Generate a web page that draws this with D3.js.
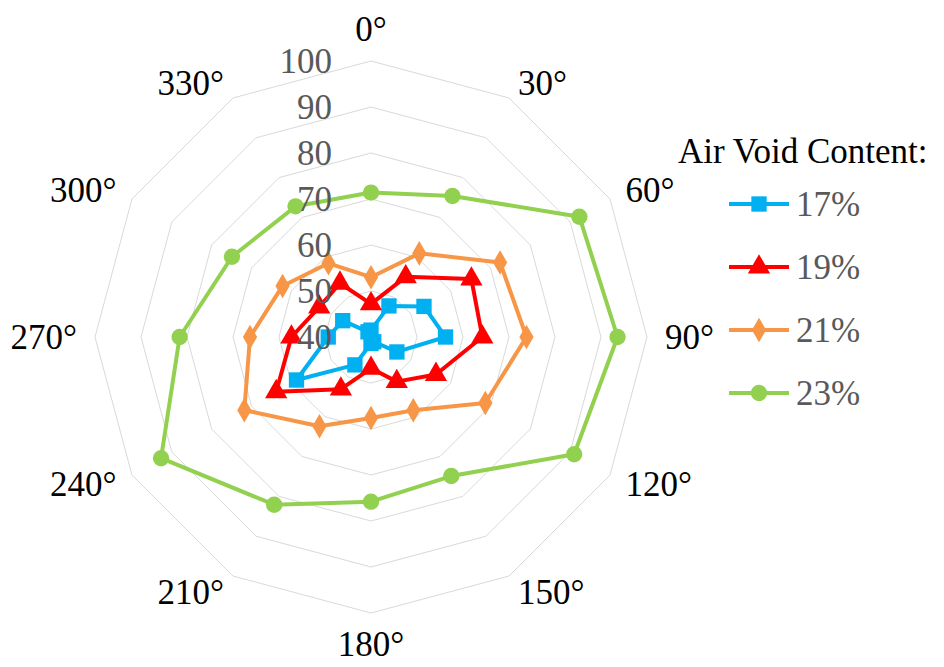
<!DOCTYPE html>
<html>
<head>
<meta charset="utf-8">
<script src="https://cdn.jsdelivr.net/npm/d3@7"></script>
<style>
  html, body { margin: 0; padding: 0; background: #fff; }
  svg { display: block; }
  text { font-family: "Liberation Serif", "Times New Roman", serif; }
</style>
</head>
<body>
<svg id="chart" width="944" height="667"></svg>
<script>
// Orientation categories (degrees), clockwise from the top
const angleLabels = ["0°", "30°", "60°", "90°", "120°", "150°", "180°", "210°", "240°", "270°", "300°", "330°"];
// Radial axis ticks
const radialTicks = [40, 50, 60, 70, 80, 90, 100];
// Series names (air void content)
const seriesNames = ["17%", "19%", "21%", "23%"];
// Values per orientation for each air void content
const values17 = [41.5, 47.8, 53.3, 56.2, 46.5, 41.2, 41.4, 47.0, 58.7, 49.3, 47.1, 41.3];
const values19 = [47.2, 55.1, 65.2, 64.2, 56.3, 51.2, 46.8, 53.1, 63.8, 57.3, 53.0, 53.5];
const values21 = [53.0, 61.0, 72.4, 73.8, 68.7, 58.4, 57.6, 62.4, 71.8, 66.3, 62.2, 58.5];
const values23 = [71.4, 75.4, 92.3, 93.6, 91.0, 74.9, 75.8, 82.1, 92.7, 81.6, 74.9, 72.8];

const seriesColors = ["#00B0F0", "#FF0000", "#F79646", "#92D050"];
const seriesSymbols = [d3.symbolSquare, d3.symbolTriangle, d3.symbolDiamond, d3.symbolCircle];
const symbolAreas = [235, 215, 175, 210];
const series = seriesNames.map((name, i) => ({
  name,
  values: [values17, values19, values21, values23][i],
  color: seriesColors[i],
  symbol: d3.symbol().type(seriesSymbols[i]).size(symbolAreas[i])
}));

const svg = d3.select("#chart");
const cx = 371, cy = 337;
const fontSize = 35;

const r = d3.scaleLinear().domain([40, 100]).range([0, 276]);
const theta = d3.scalePoint().domain(angleLabels).range([0, 2 * Math.PI * (11 / 12)]);

const g = svg.append("g").attr("transform", `translate(${cx},${cy})`);

// Point on the chart for a category and value
const pt = (cat, v) => {
  const a = theta(cat);
  return [r(v) * Math.sin(a), -r(v) * Math.cos(a)];
};

// Grid rings (polygons)
const ringLine = d3.line().curve(d3.curveLinearClosed);
g.append("g").selectAll("path")
  .data(radialTicks.slice(1))
  .join("path")
  .attr("d", t => ringLine(angleLabels.map(c => pt(c, t))))
  .attr("fill", "none")
  .attr("stroke", "#D9D9D9")
  .attr("stroke-width", 1);

// Series lines and markers
const seriesG = g.append("g");
series.forEach(s => {
  const sg = seriesG.append("g");
  sg.append("path")
    .attr("d", ringLine(s.values.map((v, i) => pt(angleLabels[i], v))))
    .attr("fill", "none")
    .attr("stroke", s.color)
    .attr("stroke-width", 4)
    .attr("stroke-linejoin", "round");
  sg.selectAll("path.m")
    .data(s.values)
    .join("path")
    .attr("class", "m")
    .attr("d", s.symbol)
    .attr("transform", (v, i) => {
      const [x, y] = pt(angleLabels[i], v);
      return `translate(${x},${y})`;
    })
    .attr("fill", s.color);
});

// Radial tick labels along the 0° spoke
g.append("g").selectAll("text")
  .data(radialTicks)
  .join("text")
  .attr("x", -39)
  .attr("y", t => -r(t))
  .attr("dy", "0.35em")
  .attr("text-anchor", "end")
  .attr("font-size", fontSize)
  .attr("fill", "#595959")
  .text(t => t);

// Category labels around the outside
const labelR = 294;
g.append("g").selectAll("text")
  .data(angleLabels)
  .join("text")
  .attr("font-size", fontSize)
  .attr("fill", "#000")
  .each(function (c) {
    const a = theta(c);
    const sx = Math.sin(a), sy = -Math.cos(a);
    let anchor = "middle";
    if (sx > 0.05) anchor = "start";
    else if (sx < -0.05) anchor = "end";
    let dy = "0.35em";
    if (Math.abs(sx) < 0.05) dy = sy < 0 ? "-0.05em" : "0.72em";
    d3.select(this)
      .attr("x", labelR * sx).attr("y", labelR * sy)
      .attr("dy", dy).attr("text-anchor", anchor).text(c);
  });

// Legend
const legend = svg.append("g");
legend.append("text")
  .attr("x", 678)
  .attr("y", 163)
  .attr("font-size", fontSize)
  .attr("fill", "#000")
  .text("Air Void Content:");

const legendY = d3.scalePoint().domain(seriesNames).range([204, 393]);
const items = legend.selectAll("g.item")
  .data(series)
  .join("g")
  .attr("class", "item")
  .attr("transform", d => `translate(0,${legendY(d.name)})`);
items.append("line")
  .attr("x1", 729).attr("x2", 789)
  .attr("stroke", d => d.color)
  .attr("stroke-width", 4);
items.append("path")
  .attr("d", d => d.symbol())
  .attr("transform", "translate(759,0)")
  .attr("fill", d => d.color);
items.append("text")
  .attr("x", 796)
  .attr("dy", "0.35em")
  .attr("font-size", fontSize)
  .attr("fill", "#595959")
  .text(d => d.name);
</script>
</body>
</html>
